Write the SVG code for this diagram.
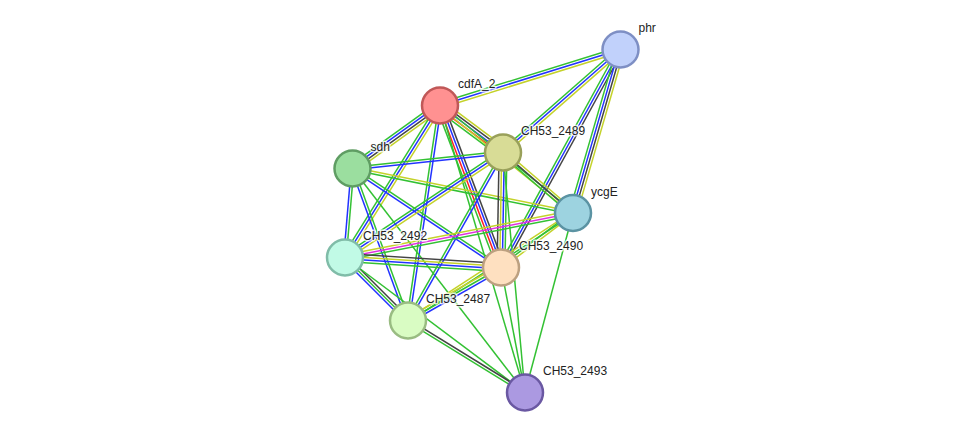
<svg xmlns="http://www.w3.org/2000/svg" width="975" height="438" viewBox="0 0 975 438">
<style>
line{stroke-width:1.5;fill:none}
.g{stroke:#33c133}.b{stroke:#2233ff}.y{stroke:#c4d22a}.k{stroke:#444444}.r{stroke:#ff2020}.m{stroke:#e030e0}
circle{stroke-width:2.5}
text{font-family:"Liberation Sans",Arial,sans-serif;font-size:12px;fill:#222;stroke:#fff;stroke-width:3;stroke-opacity:0.75;paint-order:stroke;stroke-linejoin:round}
</style>
<rect width="975" height="438" fill="#fff"/>
<g id="edges">
<g transform="translate(440 105.5) rotate(-17.24)"><line x2="189" y1="-2.6" y2="-2.6" class="g"/><line x2="189" class="b"/><line x2="189" y1="2.6" y2="2.6" class="y"/></g>
<g transform="translate(503 152.5) rotate(-41.24)"><line x2="156.3" y1="-2.6" y2="-2.6" class="g"/><line x2="156.3" class="b"/><line x2="156.3" y1="2.6" y2="2.6" class="y"/></g>
<g transform="translate(501 267.5) rotate(-61.27)"><line x2="248.6" y1="-2.6" y2="-2.6" class="g"/><line x2="248.6" class="b"/><line x2="248.6" y1="2.6" y2="2.6" class="k"/></g>
<g transform="translate(573 213) rotate(-73.8)"><line x2="170.3" y1="-3.9" y2="-3.9" class="g"/><line x2="170.3" y1="-1.3" y2="-1.3" class="b"/><line x2="170.3" y1="1.3" y2="1.3" class="k"/><line x2="170.3" y1="3.9" y2="3.9" class="y"/></g>
<g transform="translate(352.5 168.5) rotate(-35.75)"><line x2="107.8" y1="-3.9" y2="-3.9" class="g"/><line x2="107.8" y1="-1.3" y2="-1.3" class="b"/><line x2="107.8" y1="1.3" y2="1.3" class="k"/><line x2="107.8" y1="3.9" y2="3.9" class="y"/></g>
<g transform="translate(440 105.5) rotate(36.72)"><line x2="78.6" y1="-5.2" y2="-5.2" class="y"/><line x2="78.6" y1="-2.6" y2="-2.6" class="k"/><line x2="78.6" class="b"/><line x2="78.6" y1="2.6" y2="2.6" class="r"/><line x2="78.6" y1="5.2" y2="5.2" class="g"/></g>
<g transform="translate(440 105.5) rotate(69.37)"><line x2="173.1" y1="-3.9" y2="-3.9" class="k"/><line x2="173.1" y1="-1.3" y2="-1.3" class="b"/><line x2="173.1" y1="1.3" y2="1.3" class="r"/><line x2="173.1" y1="3.9" y2="3.9" class="g"/></g>
<g transform="translate(345 257.5) rotate(-57.99)"><line x2="179.2" y1="-2.6" y2="-2.6" class="g"/><line x2="179.2" class="b"/><line x2="179.2" y1="2.6" y2="2.6" class="y"/></g>
<g transform="translate(408 320.5) rotate(-81.53)"><line x2="217.4" y1="-1.3" y2="-1.3" class="g"/><line x2="217.4" y1="1.3" y2="1.3" class="b"/></g>
<g transform="translate(440 105.5) rotate(73.5)"><line x2="299.3" class="g"/></g>
<g transform="translate(440 105.5) rotate(38.95)"><line x2="171" y1="-1.3" y2="-1.3" class="g"/><line x2="171" y1="1.3" y2="1.3" class="y"/></g>
<g transform="translate(352.5 168.5) rotate(-6.07)"><line x2="151.4" y1="-1.3" y2="-1.3" class="g"/><line x2="151.4" y1="1.3" y2="1.3" class="b"/></g>
<g transform="translate(352.5 168.5) rotate(11.41)"><line x2="224.9" y1="-1.3" y2="-1.3" class="y"/><line x2="224.9" y1="1.3" y2="1.3" class="g"/></g>
<g transform="translate(352.5 168.5) rotate(94.82)"><line x2="89.3" y1="-1.3" y2="-1.3" class="g"/><line x2="89.3" y1="1.3" y2="1.3" class="b"/></g>
<g transform="translate(352.5 168.5) rotate(69.94)"><line x2="161.8" y1="-1.3" y2="-1.3" class="g"/><line x2="161.8" y1="1.3" y2="1.3" class="b"/></g>
<g transform="translate(352.5 168.5) rotate(33.69)"><line x2="178.5" y1="-1.3" y2="-1.3" class="g"/><line x2="178.5" y1="1.3" y2="1.3" class="b"/></g>
<g transform="translate(352.5 168.5) rotate(52.39)"><line x2="282.7" class="g"/></g>
<g transform="translate(503 152.5) rotate(91)"><line x2="115" y1="-3.9" y2="-3.9" class="g"/><line x2="115" y1="-1.3" y2="-1.3" class="b"/><line x2="115" y1="1.3" y2="1.3" class="y"/><line x2="115" y1="3.9" y2="3.9" class="k"/></g>
<g transform="translate(503 152.5) rotate(40.83)"><line x2="92.5" y1="-2.6" y2="-2.6" class="y"/><line x2="92.5" class="k"/><line x2="92.5" y1="2.6" y2="2.6" class="g"/></g>
<g transform="translate(345 257.5) rotate(-33.61)"><line x2="189.7" y1="-2.6" y2="-2.6" class="g"/><line x2="189.7" class="b"/><line x2="189.7" y1="2.6" y2="2.6" class="y"/></g>
<g transform="translate(408 320.5) rotate(-60.52)"><line x2="193" y1="-1.3" y2="-1.3" class="g"/><line x2="193" y1="1.3" y2="1.3" class="b"/></g>
<g transform="translate(503 152.5) rotate(84.76)"><line x2="241" class="g"/></g>
<g transform="translate(501 267.5) rotate(-37.12)"><line x2="90.3" y1="-1.3" y2="-1.3" class="g"/><line x2="90.3" y1="1.3" y2="1.3" class="y"/></g>
<g transform="translate(345 257.5) rotate(-11.04)"><line x2="232.3" y1="-2.6" y2="-2.6" class="y"/><line x2="232.3" class="m"/><line x2="232.3" y1="2.6" y2="2.6" class="g"/></g>
<g transform="translate(408 320.5) rotate(-33.08)"><line x2="196.9" y1="-1.3" y2="-1.3" class="y"/><line x2="196.9" y1="1.3" y2="1.3" class="g"/></g>
<g transform="translate(573 213) rotate(104.97)"><line x2="185.8" class="g"/></g>
<g transform="translate(345 257.5) rotate(3.67)"><line x2="156.3" y1="-3.9" y2="-3.9" class="k"/><line x2="156.3" y1="-1.3" y2="-1.3" class="y"/><line x2="156.3" y1="1.3" y2="1.3" class="b"/><line x2="156.3" y1="3.9" y2="3.9" class="g"/></g>
<g transform="translate(408 320.5) rotate(-29.68)"><line x2="107" y1="-2.6" y2="-2.6" class="y"/><line x2="107" class="g"/><line x2="107" y1="2.6" y2="2.6" class="b"/></g>
<g transform="translate(501 267.5) rotate(79.13)"><line x2="127.3" class="g"/></g>
<g transform="translate(345 257.5) rotate(45)"><line x2="89.1" y1="-2.6" y2="-2.6" class="k"/><line x2="89.1" class="g"/><line x2="89.1" y1="2.6" y2="2.6" class="b"/></g>
<g transform="translate(345 257.5) rotate(36.87)"><line x2="225" class="g"/></g>
<g transform="translate(408 320.5) rotate(31.61)"><line x2="137.4" y1="-1.3" y2="-1.3" class="k"/><line x2="137.4" y1="1.3" y2="1.3" class="g"/></g>
</g>
<g id="phr"><circle cx="620.5" cy="49.5" r="18" fill="#c1d1fb" stroke="#7e8fc4"/><text x="638.5" y="32">phr</text></g>
<g id="cdfA_2"><circle cx="440" cy="105.5" r="18" fill="#ff9191" stroke="#c05858"/><text x="458" y="88">cdfA_2</text></g>
<g id="CH53_2489"><circle cx="503" cy="152.5" r="18" fill="#d8dc96" stroke="#99a05a"/><text x="521" y="135">CH53_2489</text></g>
<g id="sdh"><circle cx="352.5" cy="168.5" r="18" fill="#9bde9f" stroke="#5f9d63"/><text x="370.5" y="151">sdh</text></g>
<g id="ycgE"><circle cx="573" cy="213" r="18" fill="#9dd3e0" stroke="#5b93a3"/><text x="591" y="195.5">ycgE</text></g>
<g id="CH53_2492"><circle cx="345" cy="257.5" r="18" fill="#c1fae6" stroke="#80bca8"/><text x="363" y="240">CH53_2492</text></g>
<g id="CH53_2490"><circle cx="501" cy="267.5" r="18" fill="#fee0c0" stroke="#bca080"/><text x="519" y="250">CH53_2490</text></g>
<g id="CH53_2487"><circle cx="408" cy="320.5" r="18" fill="#d9fcc3" stroke="#99bc82"/><text x="426" y="303">CH53_2487</text></g>
<g id="CH53_2493"><circle cx="525" cy="392.5" r="18" fill="#ab99e1" stroke="#6a58a2"/><text x="543" y="375">CH53_2493</text></g>
</svg>
